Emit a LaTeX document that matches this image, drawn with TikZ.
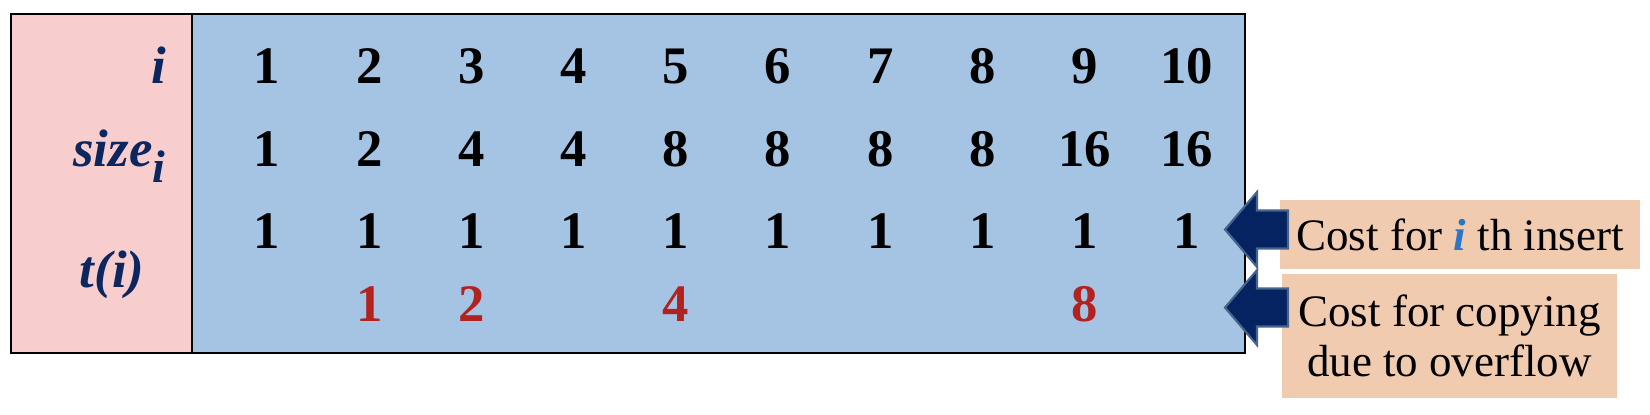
\documentclass[tikz,border=0pt]{standalone}
\usepackage{fontspec}
\setmainfont{Liberation Serif}
\usetikzlibrary{positioning}

\definecolor{leftpink}{RGB}{247,205,205}
\definecolor{tableblue}{RGB}{165,195,226}
\definecolor{headnavy}{RGB}{12,38,96}
\definecolor{copyred}{RGB}{178,34,30}
\definecolor{arrownavy}{RGB}{5,35,96}
\definecolor{arrowedge}{RGB}{70,100,140}
\definecolor{notepeach}{RGB}{241,203,176}
\definecolor{ithblue}{RGB}{46,117,196}

\tikzset{
    numcell/.style={font=\fontsize{15}{18}\selectfont\bfseries, anchor=base, inner sep=0pt},
    rowlabel/.style={font=\fontsize{15}{18}\selectfont\bfseries\itshape, text=headnavy, inner sep=0pt},
    note/.style={fill=notepeach, font=\fontsize{12.8}{14.2}\selectfont, inner sep=0pt, align=center},
    blockarrow/.style={fill=arrownavy, draw=arrowedge, line width=0.6pt, line join=miter}
}

\begin{document}
\begin{tikzpicture}[x=0.01cm, y=-0.01cm]
    \useasboundingbox (0,0) rectangle (1650,414);
    \def\firstCol{267}
    \def\colstep{102.2}

    % Table background
    \fill[leftpink] (11,14) rectangle (192,353);
    \fill[tableblue] (192,14) rectangle (1245,353);
    \draw[line width=0.5pt] (11,14) rectangle (1245,353);
    \draw[line width=0.5pt] (192,14) -- (192,353);

    % Row labels
    \node[rowlabel, anchor=base east] (lab-i) at (167,83) {i};
    \node[rowlabel, anchor=base east] (lab-size) at (166,166)
        {size\raisebox{-0.32em}{\fontsize{13}{13}\selectfont i}};
    \node[rowlabel, anchor=base] (lab-t) at (112,287) {t(i)};

    % Row i
    \foreach \val [count=\k] in {1,...,10} {
        \node[numcell] (i-\k) at ({\firstCol + (\k-1) * \colstep}, 83) {\val};
    }

    % Row size
    \foreach \val [count=\k] in {1,2,4,4,8,8,8,8,16,16} {
        \node[numcell] (size-\k) at ({\firstCol + (\k-1) * \colstep}, 166) {\val};
    }

    % Row t(i): insert
    \foreach \k in {1,...,10} {
        \node[numcell] (t-\k) at ({\firstCol + (\k-1) * \colstep}, 248) {1};
    }

    % Row t(i): copying
    \foreach \k/\val in {2/1,3/2,5/4,9/8} {
        \node[numcell, text=copyred] (copy-\k) at ({\firstCol + (\k-1) * \colstep}, 321) {\val};
    }

    % Notes
    \node[note, minimum width=3.6cm, minimum height=0.69cm] (note-insert) at (1460,234.5)
        {Cost for {\bfseries\itshape\color{ithblue}i} th insert};
    \node[note, minimum width=3.35cm, minimum height=1.24cm] (note-copy) at (1449.5,336)
        {Cost for copying\\due to overflow};

    % Arrows
    \foreach \yc in {229.5,307.5} {
        \draw[blockarrow]
            (1225,\yc) -- (1257,{\yc-37.5}) -- (1257,{\yc-19})
            -- (1288,{\yc-19}) -- (1288,{\yc+19}) -- (1257,{\yc+19})
            -- (1257,{\yc+37.5}) -- cycle;
    }

\end{tikzpicture}
\end{document}
